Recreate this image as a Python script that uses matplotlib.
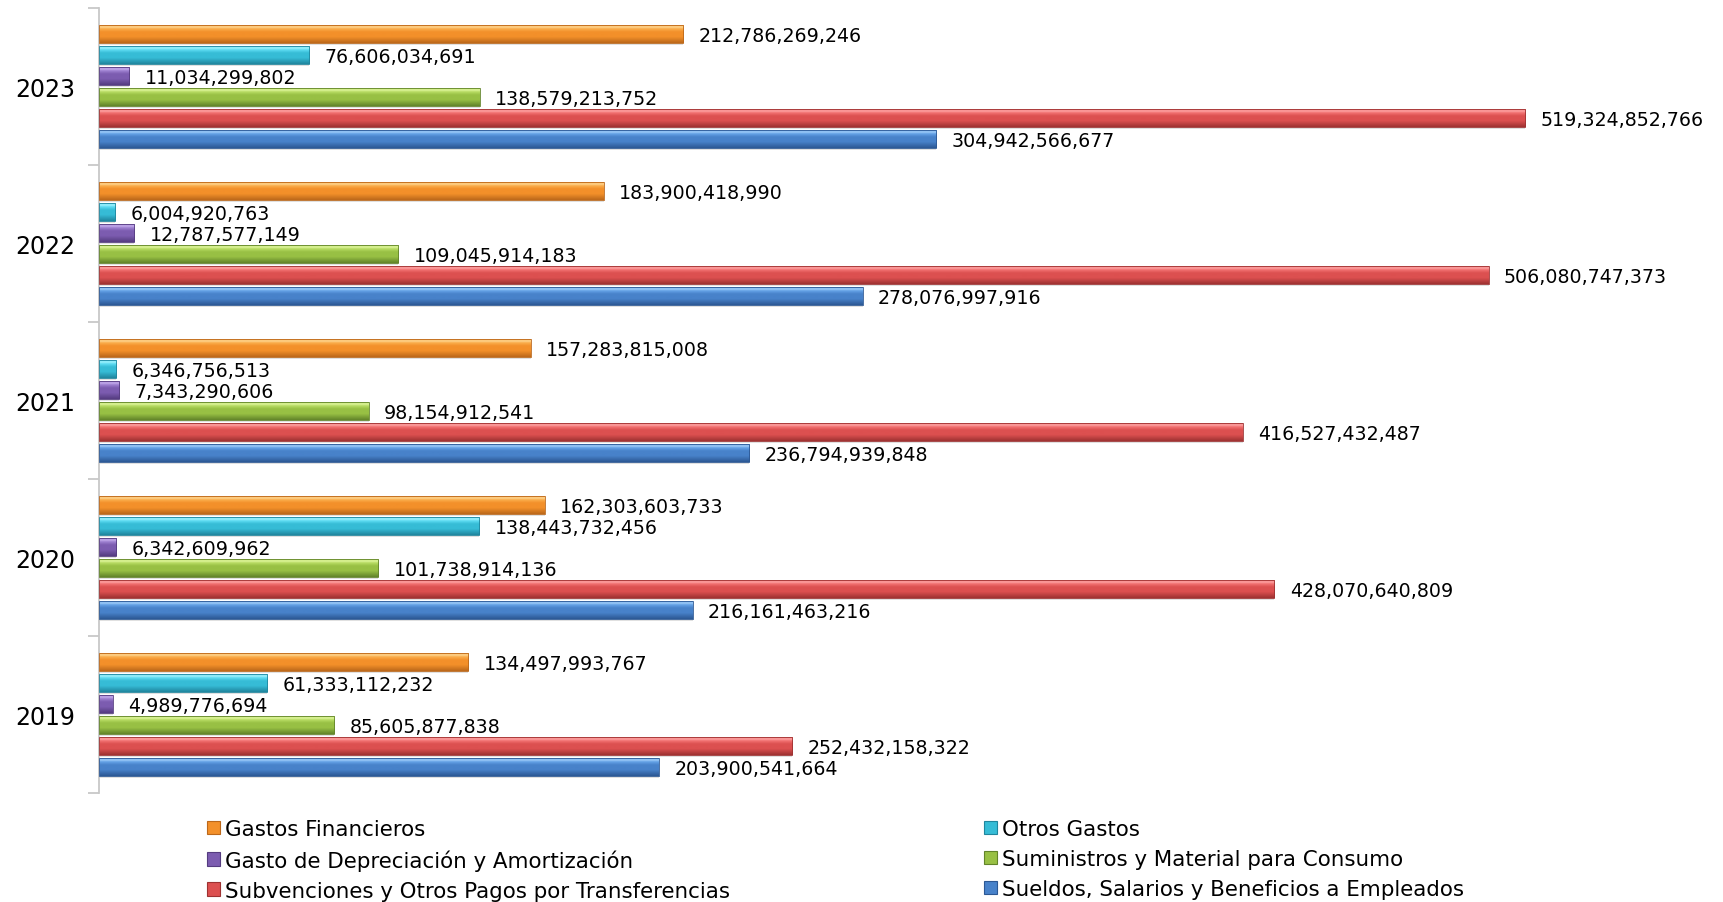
import numpy as np
import matplotlib
matplotlib.use("Agg")
import matplotlib.pyplot as plt
from matplotlib.colors import LinearSegmentedColormap
from matplotlib.patches import Patch

plt.rcParams['font.family'] = ['DejaVu Sans']

years = ["2019", "2020", "2021", "2022", "2023"]

series_names = [
    "Gastos Financieros",
    "Otros Gastos",
    "Gasto de Depreciación y Amortización",
    "Suministros y Material para Consumo",
    "Subvenciones y Otros Pagos por Transferencias",
    "Sueldos, Salarios y Beneficios a Empleados",
]

gastos_financieros = [134497993767, 162303603733, 157283815008, 183900418990, 212786269246]
otros_gastos = [61333112232, 138443732456, 6346756513, 6004920763, 76606034691]
depreciacion = [4989776694, 6342609962, 7343290606, 12787577149, 11034299802]
suministros = [85605877838, 101738914136, 98154912541, 109045914183, 138579213752]
subvenciones = [252432158322, 428070640809, 416527432487, 506080747373, 519324852766]
sueldos = [203900541664, 216161463216, 236794939848, 278076997916, 304942566677]

series_values = [gastos_financieros, otros_gastos, depreciacion, suministros, subvenciones, sueldos]

# (top highlight, light, mid, dark bottom)
palettes = [
    ["#FDD592", "#FAAE4C", "#F3902A", "#BC681A"],
    ["#A0F2FD", "#5EDCF2", "#36BCD6", "#20869E"],
    ["#C4ACEC", "#9E80D0", "#7C5CB0", "#553C80"],
    ["#E0F69E", "#B8DC64", "#98C044", "#62842A"],
    ["#FDA4A4", "#F27272", "#DC5050", "#9E3232"],
    ["#A0CCF8", "#64A2E6", "#4882CA", "#2C5894"],
]

fig = plt.figure(figsize=(17.23, 9.03), dpi=100)
ax = fig.add_axes([99 / 1723, 1 - 794 / 903, (1700 - 99) / 1723, (794 - 9) / 903])

x_max = max(subvenciones) * 1601 / 1426
n = len(series_names)
pitch = 0.133
bar_h = 0.114
ypos = np.arange(len(years))

for i, (name, vals, pal) in enumerate(zip(series_names, series_values, palettes)):
    offset = (n - 1) / 2 * pitch - i * pitch
    yy = ypos + offset
    # soft shadow
    ax.barh(yy - 0.012, vals, height=bar_h, left=0, color="#000000", alpha=0.12,
            linewidth=0, zorder=1)
    bars = ax.barh(yy, vals, height=bar_h, color="none", edgecolor=pal[3],
                   linewidth=0.6, zorder=3)
    cmap = LinearSegmentedColormap.from_list(
        "g%d" % i, [(0.0, pal[3]), (0.35, pal[2]), (0.62, pal[2]),
                    (0.8, pal[1]), (0.9, pal[0]), (1.0, pal[1])])
    grad = np.linspace(0, 1, 64).reshape(-1, 1)
    for b, v, y in zip(bars, vals, yy):
        im = ax.imshow(grad, cmap=cmap, aspect="auto", origin="lower",
                       extent=(0, v, y - bar_h / 2, y + bar_h / 2), zorder=2,
                       interpolation="bilinear")
        im.set_clip_path(b)
        ax.annotate(f"{v:,}", xy=(v, y), xytext=(11, -1), textcoords="offset points",
                    va="center", ha="left", fontsize=13.7, color="#000000")

ax.set_xlim(0, x_max)
ax.set_ylim(-0.5, len(years) - 0.5)
ax.set_yticks(ypos)
ax.set_yticklabels(years, fontsize=17)
ax.set_yticks(np.arange(-0.5, len(years)), minor=True)
ax.tick_params(axis="y", which="major", length=0, pad=17)
ax.tick_params(axis="y", which="minor", length=8, color="#C8C8C8", width=1.3)
ax.set_xticks([])
for s in ["top", "right", "bottom"]:
    ax.spines[s].set_visible(False)
ax.spines["left"].set_color("#C8C8C8")
ax.spines["left"].set_linewidth(1.3)

handles = [Patch(facecolor=pal[2], edgecolor=pal[3], linewidth=0.8) for pal in palettes]
order1 = [0, 2, 4]
order2 = [1, 3, 5]
common = dict(loc="upper left", frameon=False, fontsize=15.4, handlelength=0.6,
              handleheight=0.6, handletextpad=0.25, labelspacing=0.47,
              borderpad=0, borderaxespad=0)
fig.legend([handles[k] for k in order1], [series_names[k] for k in order1],
           bbox_to_anchor=(207 / 1723, 1 - 820 / 903), **common)
fig.legend([handles[k] for k in order2], [series_names[k] for k in order2],
           bbox_to_anchor=(984 / 1723, 1 - 820 / 903), **common)

fig.savefig("out.png", dpi=100)
